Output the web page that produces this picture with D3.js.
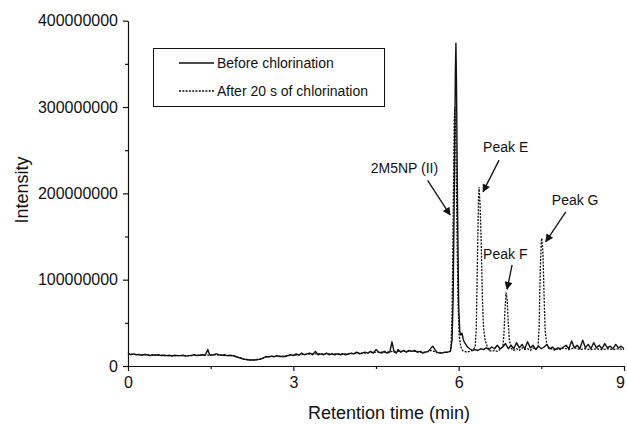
<!DOCTYPE html>
<html>
<head>
<meta charset="utf-8">
<script src="https://cdn.jsdelivr.net/npm/d3@7"></script>
<style>
  html, body { margin: 0; padding: 0; background: #fff; }
  svg { display: block; font-family: "Liberation Sans", Arial, sans-serif; }
</style>
</head>
<body>
<svg id="chart" width="627" height="425"></svg>
<script>
// ---------- DATA (intensity in millions of counts) ----------
const seriesNames = ["Before chlorination", "After 20 s of chlorination"];

// Before chlorination: [retention time (min), intensity (M)]
const beforeData = [
  [0,15],[0.05,13],[0.1,14],[0.15,13],[0.2,13.5],[0.25,12.5],[0.3,13.5],[0.35,13],[0.4,12],[0.45,13],
  [0.5,12.5],[0.55,13],[0.6,12],[0.65,12.5],[0.7,12],[0.75,12.5],[0.8,11.5],[0.85,12.5],[0.9,12],[0.95,12],
  [1.0,12.5],[1.05,11.5],[1.1,12],[1.15,12],[1.2,13],[1.25,12],[1.3,12.5],[1.35,13],[1.4,12.5],[1.45,19],
  [1.48,13],[1.5,12.5],[1.55,13],[1.6,14],[1.65,13],[1.7,12.5],[1.75,13],[1.8,12],[1.85,12.5],[1.9,12],
  [1.95,11],[2.0,10],[2.05,9],[2.1,8],[2.15,7.5],[2.2,7],[2.25,7],[2.3,7],[2.35,7.5],[2.4,8],
  [2.45,9],[2.5,11],[2.55,10.5],[2.6,11.5],[2.65,10.5],[2.7,12],[2.75,11],[2.8,11],[2.85,11],[2.9,12],
  [2.95,13],[3.0,12],[3.05,14],[3.1,12.5],[3.15,15],[3.2,13],[3.25,14],[3.3,15],[3.35,13],[3.4,17],
  [3.45,13],[3.5,14],[3.55,13],[3.6,15],[3.65,13],[3.7,14],[3.75,13],[3.8,14],[3.85,13],[3.9,14],
  [3.95,13],[4.0,14],[4.05,15],[4.1,14],[4.15,16],[4.2,14],[4.25,15],[4.3,16],[4.35,15],[4.4,17],
  [4.45,15],[4.5,19],[4.55,16],[4.6,15],[4.65,17],[4.7,15],[4.75,16],[4.79,28],[4.83,16],[4.87,15],
  [4.9,19],[4.95,16],[5.0,18],[5.05,16],[5.1,18],[5.15,17],[5.2,18],[5.25,16],[5.3,17],[5.35,15],
  [5.4,16],[5.45,17],[5.5,21],[5.53,23],[5.57,19],[5.6,16],[5.65,15],[5.7,15],[5.75,16],[5.8,16],
  [5.85,17],[5.88,30],[5.9,80],[5.92,200],[5.94,340],[5.95,374],[5.96,330],[5.98,180],[6.0,70],[6.02,40],
  [6.04,36],[6.06,38],[6.08,32],[6.1,28],[6.13,25],[6.16,22],[6.2,20],[6.25,18],[6.3,19],[6.35,18],
  [6.4,20],[6.45,19],[6.5,21],[6.55,19],[6.6,22],[6.65,20],[6.7,24],[6.75,20],[6.8,22],[6.85,26],
  [6.9,20],[6.95,24],[7.0,20],[7.05,27],[7.1,21],[7.15,25],[7.2,20],[7.25,28],[7.3,21],[7.35,24],
  [7.4,19],[7.45,23],[7.5,20],[7.55,22],[7.6,25],[7.65,20],[7.7,22],[7.75,19],[7.8,21],[7.85,20],
  [7.9,22],[7.95,24],[8.0,20],[8.05,29],[8.1,21],[8.15,24],[8.2,20],[8.25,30],[8.3,21],[8.35,25],
  [8.4,20],[8.45,27],[8.5,21],[8.55,24],[8.6,20],[8.65,26],[8.7,21],[8.75,23],[8.8,20],[8.85,25],
  [8.9,21],[8.95,23],[9.0,20]
];

// After 20 s of chlorination: [retention time (min), intensity (M)]
const afterData = [
  [0,14],[0.1,13.5],[0.2,13],[0.3,13],[0.4,12.5],[0.5,12.5],[0.6,12.5],[0.7,12],[0.8,12],[0.9,12],
  [1.0,12],[1.1,12],[1.2,12.5],[1.3,12.5],[1.4,12.5],[1.5,12.5],[1.6,13],[1.7,12.5],[1.8,12],[1.9,12],
  [2.0,10],[2.1,8],[2.2,7],[2.3,7],[2.4,8],[2.5,10.5],[2.6,11],[2.7,11.5],[2.8,11],[2.9,12],
  [3.0,12.5],[3.1,13],[3.2,13.5],[3.3,14],[3.4,14],[3.5,14],[3.6,14],[3.7,14],[3.8,14],[3.9,14],
  [4.0,14],[4.1,14.5],[4.2,15],[4.3,15],[4.4,15.5],[4.5,16],[4.6,16],[4.7,16],[4.8,17],[4.9,17],
  [5.0,17],[5.1,17],[5.2,17],[5.3,16],[5.4,16],[5.5,18],[5.6,16],[5.7,15.5],[5.8,16],
  [5.84,17],[5.86,20],[5.88,60],[5.9,170],[5.92,285],[5.93,300],[5.95,260],[5.97,150],[5.99,70],[6.01,35],
  [6.04,22],[6.07,18],[6.1,17],[6.15,16],[6.2,17],[6.25,18],[6.3,22],[6.32,45],[6.34,120],[6.36,195],
  [6.37,207],[6.39,185],[6.41,140],[6.43,80],[6.45,45],[6.48,30],[6.52,22],[6.56,18],[6.6,17],[6.65,18],
  [6.7,17],[6.75,19],[6.8,22],[6.82,35],[6.84,65],[6.86,85],[6.88,78],[6.9,50],[6.92,30],[6.96,20],
  [7.0,18],[7.05,20],[7.1,18],[7.15,21],[7.2,19],[7.25,20],[7.3,18],[7.35,21],[7.4,20],[7.44,22],
  [7.46,45],[7.48,110],[7.5,145],[7.51,148],[7.53,130],[7.55,80],[7.57,40],[7.6,25],[7.64,20],[7.7,20],
  [7.75,18],[7.8,20],[7.85,19],[7.9,21],[7.95,20],[8.0,19],[8.1,21],[8.2,19],[8.3,20],[8.4,19],
  [8.5,20],[8.6,19],[8.7,20],[8.8,19],[8.9,20],[9.0,19]
];

const xTickValues = [0, 3, 6, 9];
const xTickLabels = ["0", "3", "6", "9"];
const xMinorTicks = [1.5, 4.5, 7.5];
const yTickValues = [0, 100, 200, 300, 400];
const yTickLabels = ["0", "100000000", "200000000", "300000000", "400000000"];
const yMinorTicks = [50, 150, 250, 350];

// Annotations in data coordinates (time, intensity M)
const annotationLabels = ["2M5NP (II)", "Peak E", "Peak F", "Peak G"];
const annotationTextAt = [[4.405, 224], [6.443, 248], [6.443, 124], [7.69, 186.5]];
const annotationArrowFrom = [[5.436, 215], [6.733, 238.5], [6.969, 117], [7.944, 178.5]];
const annotationArrowTo = [[5.844, 175], [6.443, 202], [6.878, 89], [7.581, 144]];

// ---------- DRAW ----------
const svg = d3.select("#chart");
const ink = "#111";

const x = d3.scaleLinear().domain([0, 9]).range([128, 624]);
const y = d3.scaleLinear().domain([0, 400]).range([366, 20.7]);

svg.append("defs").append("marker")
  .attr("id", "arrow").attr("viewBox", "0 0 10 10")
  .attr("refX", 9).attr("refY", 5)
  .attr("markerWidth", 9).attr("markerHeight", 8)
  .attr("markerUnits", "userSpaceOnUse")
  .attr("orient", "auto")
  .append("path").attr("d", "M0,0 L10,5 L0,10 Z").attr("fill", ink);

const line = d3.line().x(d => x(d[0])).y(d => y(d[1]));
svg.append("path").datum(beforeData)
  .attr("d", line).attr("fill", "none").attr("stroke", ink)
  .attr("stroke-width", 1.4).attr("stroke-linejoin", "round");
svg.append("path").datum(afterData)
  .attr("d", line).attr("fill", "none").attr("stroke", ink)
  .attr("stroke-width", 1.3).attr("stroke-dasharray", "2,1.3");

// Y axis
svg.append("g").attr("transform", `translate(${x(0)},0)`)
  .call(d3.axisLeft(y).tickValues(yTickValues)
    .tickFormat((d, i) => yTickLabels[i]).tickSize(5).tickSizeOuter(0).tickPadding(5));
svg.append("g").attr("transform", `translate(${x(0)},0)`)
  .call(d3.axisLeft(y).tickValues(yMinorTicks).tickFormat("").tickSize(3).tickSizeOuter(0))
  .select(".domain").remove();

// X axis
const xAxis = svg.append("g").attr("transform", `translate(0,${y(0)})`)
  .call(d3.axisBottom(x).tickValues(xTickValues)
    .tickFormat((d, i) => xTickLabels[i]).tickSize(5).tickSizeOuter(0).tickPadding(6));
svg.append("g").attr("transform", `translate(0,${y(0)})`)
  .call(d3.axisBottom(x).tickValues(xMinorTicks).tickFormat("").tickSize(3).tickSizeOuter(0))
  .select(".domain").remove();
xAxis.selectAll(".tick text").filter((d, i) => i === xTickValues.length - 1).attr("dx", "-4");

svg.selectAll(".domain, .tick line").attr("stroke", ink).attr("stroke-width", 1.2);
svg.selectAll(".tick text").attr("fill", ink).attr("font-size", 16)
  .attr("font-family", "'Liberation Sans', Arial, sans-serif");

// Axis titles
svg.append("text").attr("x", 389).attr("y", 419).attr("text-anchor", "middle")
  .attr("font-size", 18).attr("fill", ink).text("Retention time (min)");
svg.append("text").attr("transform", "translate(28,190) rotate(-90)")
  .attr("text-anchor", "middle").attr("font-size", 18).attr("fill", ink).text("Intensity");

// Legend
const legend = svg.append("g");
legend.append("rect").attr("x", 153.5).attr("y", 48.5).attr("width", 231).attr("height", 58)
  .attr("fill", "#fff").attr("stroke", ink).attr("stroke-width", 1);
const legendY = [63, 91];
seriesNames.forEach((name, i) => {
  legend.append("line").attr("x1", 179).attr("x2", 214)
    .attr("y1", legendY[i]).attr("y2", legendY[i])
    .attr("stroke", ink).attr("stroke-width", i === 0 ? 1.4 : 1.3)
    .attr("stroke-dasharray", i === 0 ? null : "2,1.3");
  legend.append("text").attr("x", 217).attr("y", legendY[i]).attr("dy", "0.35em")
    .attr("font-size", 14).attr("fill", ink).text(name);
});

// Annotations
const ann = svg.append("g");
annotationLabels.forEach((label, i) => {
  ann.append("text").attr("x", x(annotationTextAt[i][0])).attr("y", y(annotationTextAt[i][1]))
    .attr("font-size", 14).attr("fill", ink).text(label);
  ann.append("line")
    .attr("x1", x(annotationArrowFrom[i][0])).attr("y1", y(annotationArrowFrom[i][1]))
    .attr("x2", x(annotationArrowTo[i][0])).attr("y2", y(annotationArrowTo[i][1]))
    .attr("stroke", ink).attr("stroke-width", 1.3).attr("marker-end", "url(#arrow)");
});
</script>
</body>
</html>
